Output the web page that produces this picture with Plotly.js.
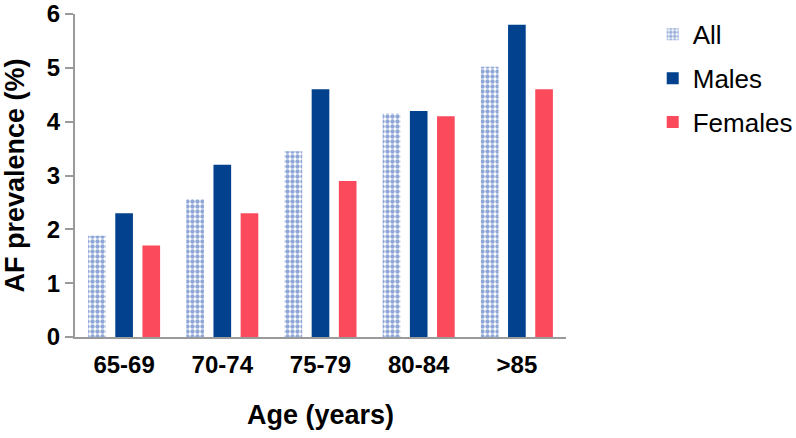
<!DOCTYPE html>
<html>
<head>
<meta charset="utf-8">
<script src="https://cdn.plot.ly/plotly-3.0.1.min.js"></script>
<style>html,body{margin:0;padding:0;background:#fff}#chart{width:796px;height:438px}</style>
</head>
<body>
<div id="chart"></div>
<script>
var categories = ["65-69", "70-74", "75-79", "80-84", ">85"];
var allValues = [1.88, 2.56, 3.45, 4.15, 5.02];
var maleValues = [2.3, 3.2, 4.6, 4.2, 5.8];
var femaleValues = [1.7, 2.3, 2.9, 4.1, 4.6];
var yTicks = [0, 1, 2, 3, 4, 5, 6];

var traces = [
  {type: "bar", name: "All", x: categories, y: allValues, legendgroup: "a",
   marker: {color: "#ffffff", line: {width: 0},
            pattern: {shape: ".", fgcolor: "#8ea7d6", bgcolor: "#ffffff", size: 5, solidity: 0.6, fillmode: "replace"}}},
  {type: "bar", name: "Males", x: categories, y: maleValues, legendgroup: "m",
   marker: {color: "#02418d", line: {width: 0}}},
  {type: "bar", name: "Females", x: categories, y: femaleValues, legendgroup: "f",
   marker: {color: "#fb4a5c", line: {width: 0}}}
];

var layout = {
  width: 796, height: 438,
  margin: {l: 75, r: 230, t: 14, b: 101},
  paper_bgcolor: "#fff", plot_bgcolor: "#fff",
  font: {family: "Liberation Sans, Arial, sans-serif", color: "#000"},
  barmode: "group", bargap: 0.17, bargroupgap: 0.35,
  showlegend: true,
  legend: {xref: "container", yref: "container", x: 0.82, y: 0.975, yanchor: "top", xanchor: "left",
           font: {size: 26, color: "#000"}, traceorder: "grouped", tracegroupgap: 7, bgcolor: "rgba(0,0,0,0)"},
  xaxis: {
    showline: true, linecolor: "#9a9a9a", linewidth: 2, ticks: "", showgrid: false, zeroline: false,
    tickfont: {size: 24, weight: "bold"},
    ticklabelstandoff: 5,
    title: {text: "<b>Age (years)</b>", font: {size: 27}, standoff: 28}
  },
  yaxis: {
    range: [0, 6], tickvals: yTicks, showline: true, linecolor: "#9a9a9a", linewidth: 2,
    ticks: "outside", ticklen: 8, tickwidth: 2, tickcolor: "#9a9a9a", showgrid: false, zeroline: false,
    tickfont: {size: 24, weight: "bold"}, ticklabeloverflow: "allow",
    title: {text: "<b>AF prevalence (%)</b>", font: {size: 27}, standoff: 14}
  }
};

Plotly.newPlot("chart", traces, layout, {displayModeBar: false, staticPlot: true});
</script>
</body>
</html>
